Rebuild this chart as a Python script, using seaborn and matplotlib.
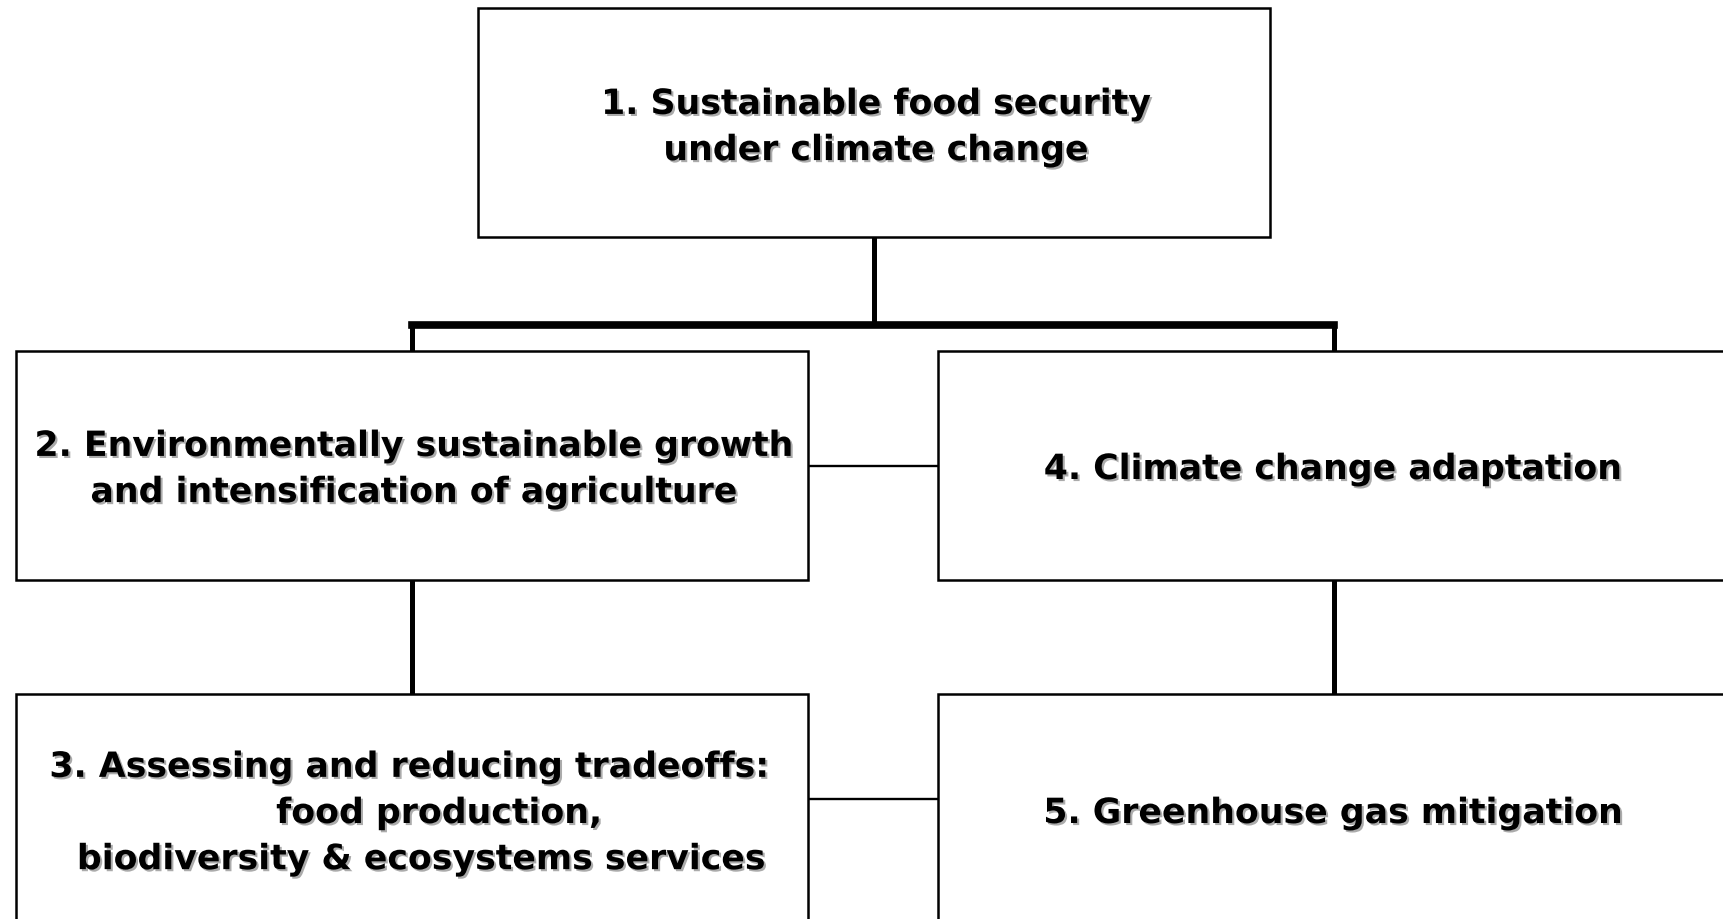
import matplotlib
matplotlib.use("Agg")
import matplotlib.pyplot as plt
import matplotlib.patheffects as pe
from matplotlib.patches import Rectangle
import seaborn as sns

# ---- content ----
box_labels = [
    "1. Sustainable food security\nunder climate change",
    "2. Environmentally sustainable growth\nand intensification of agriculture",
    "3. Assessing and reducing tradeoffs:\n     food production,\n  biodiversity & ecosystems services",
    "4. Climate change adaptation",
    "5. Greenhouse gas mitigation",
]
hierarchy_edges = [(0, 1), (0, 3), (1, 2), (3, 4)]
peer_links = [(1, 3), (2, 4)]

# ---- layout (pixel units, y downward) ----
box_xy = {0: (478, 9), 1: (16, 352), 2: (16, 695), 3: (938, 352), 4: (938, 695)}
BOX_W, BOX_H = 792, 229
text_xy = {0: (876, 128), 1: (414, 470), 2: (409, 814), 3: (1333, 470), 4: (1333, 814)}
link_y = {(1, 3): 467, (2, 4): 800}
BAR_Y = 326

sns.set_theme(style="white")
plt.rcParams['font.family'] = ['DejaVu Sans']

fig = plt.figure(figsize=(17.24, 9.2), dpi=100)
ax = fig.add_axes([0, 0, 1, 1])
ax.set_xlim(0, 1724)
ax.set_ylim(920, 0)
ax.axis("off")

def cx(i):
    return box_xy[i][0] + BOX_W / 2

# boxes
for i, (x, y) in box_xy.items():
    ax.add_patch(Rectangle((x, y), BOX_W, BOX_H, facecolor="white",
                           edgecolor="black", lw=1.8, zorder=2))

# hierarchy connectors
top_children = [c for p, c in hierarchy_edges if p == 0]
ax.plot([cx(0), cx(0)], [box_xy[0][1] + BOX_H, BAR_Y], color="black", lw=3.6,
        solid_capstyle="butt", zorder=1)
ax.plot([min(cx(c) for c in top_children), max(cx(c) for c in top_children)],
        [BAR_Y, BAR_Y], color="black", lw=5.5, solid_capstyle="projecting", zorder=1)
for p, c in hierarchy_edges:
    if p == 0:
        ax.plot([cx(c), cx(c)], [BAR_Y, box_xy[c][1]], color="black", lw=3.6,
                solid_capstyle="butt", zorder=1)
    else:
        ax.plot([cx(c), cx(c)], [box_xy[p][1] + BOX_H, box_xy[c][1]], color="black",
                lw=3.6, solid_capstyle="butt", zorder=1)

# peer links
for a, b in peer_links:
    y = link_y[(a, b)]
    ax.plot([box_xy[a][0] + BOX_W, box_xy[b][0]], [y, y], color="black", lw=1.7,
            zorder=1)

# labels
shadow = [pe.withSimplePatchShadow(offset=(1.5, -1.5), shadow_rgbFace=(0.45, 0.45, 0.45),
                                   alpha=0.6)]
for i, lab in enumerate(box_labels):
    x, y = text_xy[i]
    ax.text(x, y, lab, ha="center", va="center", multialignment="center",
            fontsize=25, fontweight="bold", color="black", linespacing=1.45,
            path_effects=shadow, zorder=3)

fig.savefig("out.png", dpi=100, facecolor="white")
